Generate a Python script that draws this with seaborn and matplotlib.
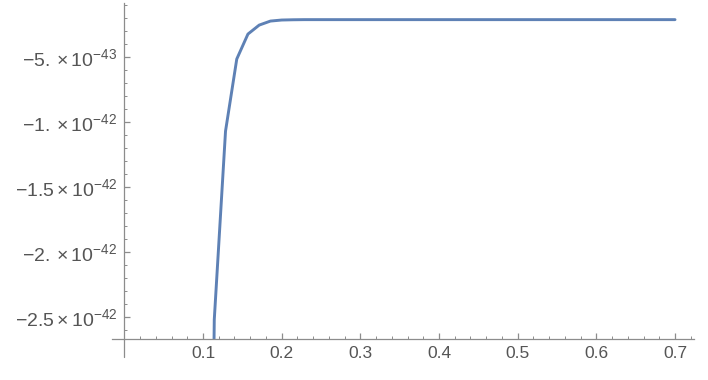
import matplotlib
matplotlib.use("Agg")
import matplotlib.pyplot as plt
import matplotlib.ticker as mticker
import matplotlib.transforms as mtrans
import seaborn as sns
import pandas as pd

x_vals = [0.1, 0.1143, 0.1286, 0.1429, 0.1571, 0.1714, 0.1857, 0.2, 0.2143, 0.2286,
          0.2429, 0.2571, 0.2714, 0.2857, 0.3, 0.3143, 0.3286, 0.3429, 0.3571, 0.3714,
          0.3857, 0.4, 0.4143, 0.4286, 0.4429, 0.4571, 0.4714, 0.4857, 0.5, 0.5143,
          0.5286, 0.5429, 0.5571, 0.5714, 0.5857, 0.6, 0.6143, 0.6286, 0.6429, 0.6571,
          0.6714, 0.6857, 0.7]
y_e43 = [-100.0, -25.2, -10.7, -5.15, -3.23, -2.54, -2.23, -2.15, -2.13, -2.12,
         -2.12, -2.12, -2.12, -2.12, -2.12, -2.12, -2.12, -2.12, -2.12, -2.12,
         -2.12, -2.12, -2.12, -2.12, -2.12, -2.12, -2.12, -2.12, -2.12, -2.12,
         -2.12, -2.12, -2.12, -2.12, -2.12, -2.12, -2.12, -2.12, -2.12, -2.12,
         -2.12, -2.12, -2.12]
y_vals = [v * 1e-43 for v in y_e43]

x_ticks = [0.1, 0.2, 0.3, 0.4, 0.5, 0.6, 0.7]
x_labels = ["0.1", "0.2", "0.3", "0.4", "0.5", "0.6", "0.7"]
y_ticks = [-5e-43, -1e-42, -1.5e-42, -2e-42, -2.5e-42]
y_labels = [r"$-5.\times 10^{-43}$", r"$-1.\times 10^{-42}$", r"$-1.5\times 10^{-42}$",
            r"$-2.\times 10^{-42}$", r"$-2.5\times 10^{-42}$"]

sns.set_style("white")
plt.rcParams["font.family"] = ["Liberation Sans", "DejaVu Sans"]
plt.rcParams["mathtext.fontset"] = "custom"
plt.rcParams["mathtext.rm"] = "Liberation Sans"
plt.rcParams["mathtext.it"] = "Liberation Sans"
plt.rcParams["mathtext.bf"] = "Liberation Sans"

df = pd.DataFrame({"x": x_vals, "y": y_vals})

fig = plt.figure(figsize=(7.08, 3.80), dpi=100)
ax = fig.add_axes([112 / 708, 1 - 339 / 380, (694 - 112) / 708, (339 - 3) / 380])

sns.lineplot(data=df, x="x", y="y", ax=ax, color="#5E81B5", linewidth=2.1, sort=False)

ax.set_xlim(-0.0157, 0.7241)
ax.set_ylim(-2.669e-42, -0.084e-42)

axis_col = "#8c8c8c"
for s in ["top", "right"]:
    ax.spines[s].set_visible(False)
ax.spines["left"].set_position(("data", 0.0))
for s in ["left", "bottom"]:
    ax.spines[s].set_color(axis_col)
    ax.spines[s].set_linewidth(0.9)

# extension of the vertical axis below the horizontal axis
trans = mtrans.blended_transform_factory(ax.transData, ax.transAxes)
ax.plot([0, 0], [0, -18 / 336], transform=trans, color=axis_col, lw=0.9, clip_on=False)

ax.set_xticks(x_ticks)
ax.set_xticklabels(x_labels)
ax.set_yticks(y_ticks)
ax.set_yticklabels(y_labels)
ax.xaxis.set_minor_locator(mticker.MultipleLocator(0.02))
ax.yaxis.set_minor_locator(mticker.MultipleLocator(1e-43))

ax.tick_params(axis="both", which="both", bottom=True, left=True, top=False, right=False)
ax.tick_params(axis="both", which="major", direction="in", length=4.0, width=0.9,
               color=axis_col, labelcolor="#555555")
ax.tick_params(axis="both", which="minor", direction="in", length=2.2, width=0.7,
               color=axis_col)
ax.tick_params(axis="x", which="major", pad=5, labelsize=12.5)
ax.tick_params(axis="y", which="major", pad=5, labelsize=14)

ax.set_xlabel("")
ax.set_ylabel("")
ax.grid(False)

fig.savefig("out.png", dpi=100)
